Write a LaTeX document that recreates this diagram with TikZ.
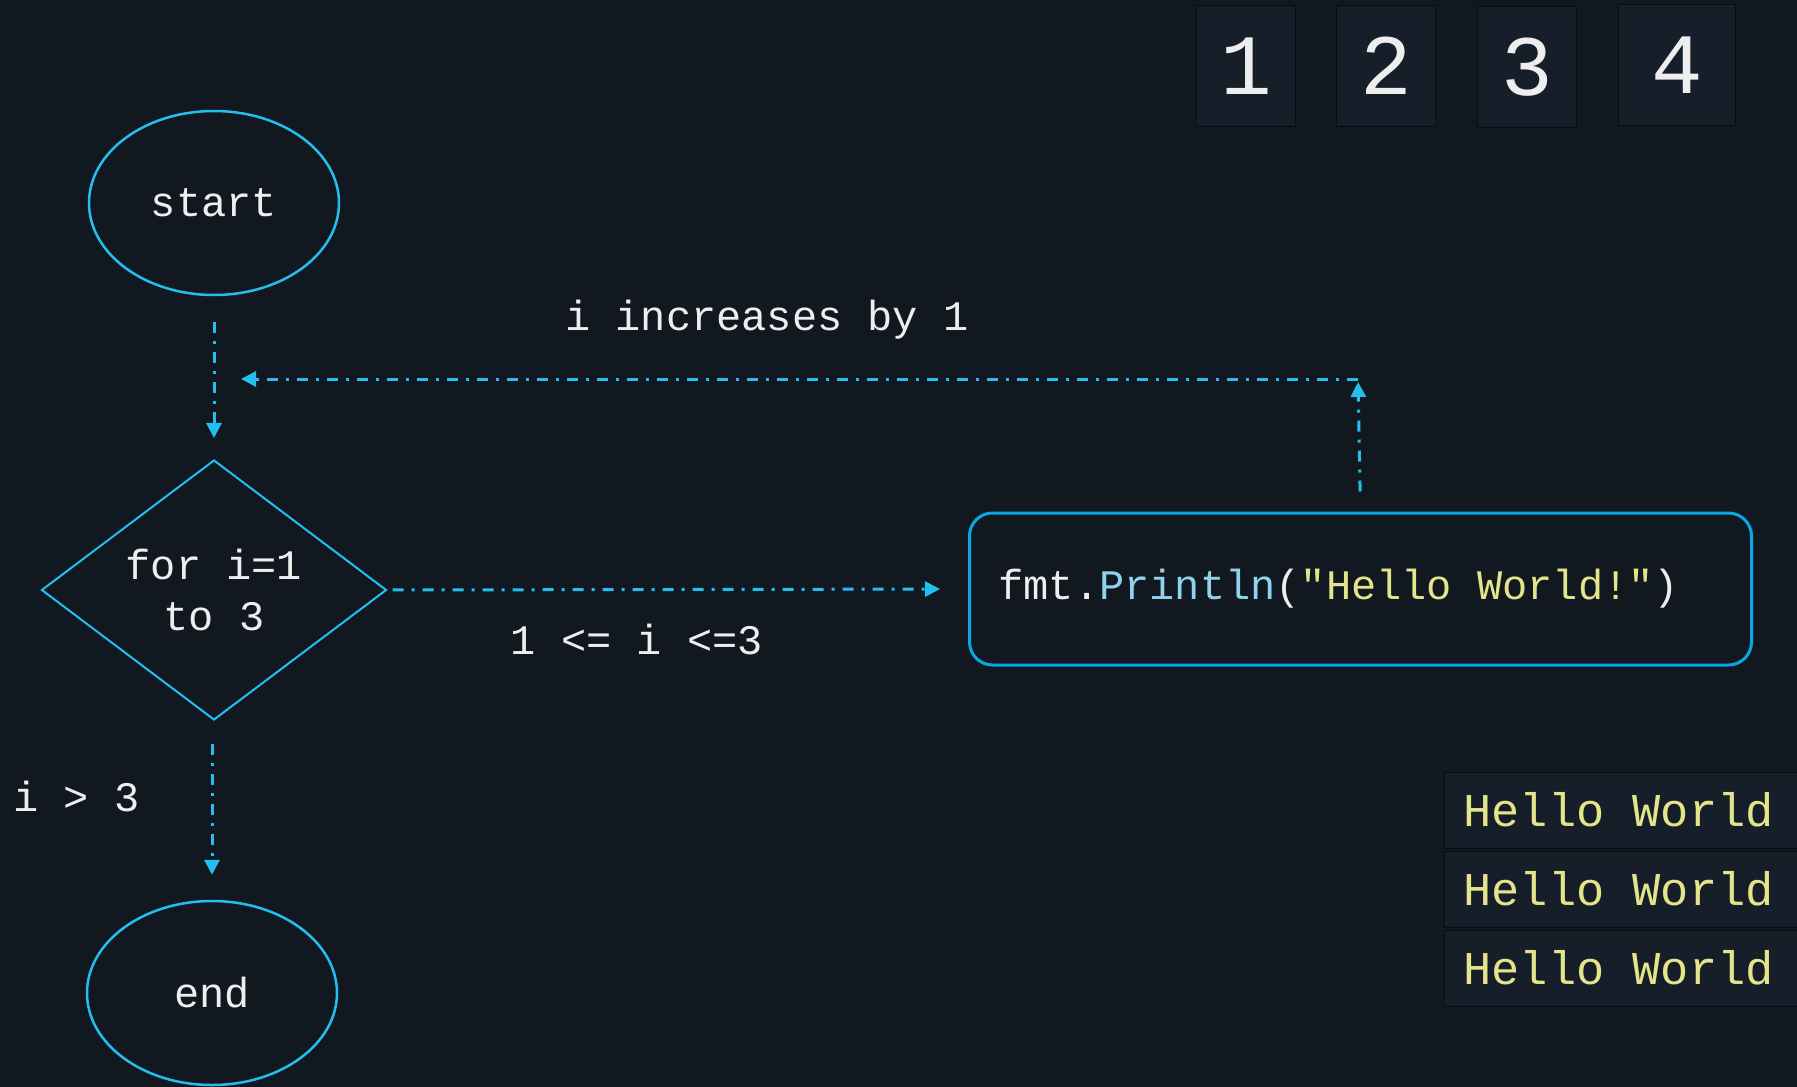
\documentclass[tikz,border=0pt]{standalone}
\usepackage{fontspec}
\setmonofont{Liberation Mono}
\usetikzlibrary{shapes.geometric,arrows.meta}
\definecolor{bg}{HTML}{111820}
\definecolor{flowline}{HTML}{22BFEF}
\definecolor{boxline}{HTML}{0AA8E2}
\definecolor{cell}{HTML}{161E29}
\definecolor{funcblue}{HTML}{8FD4EC}
\definecolor{strgold}{HTML}{E4E48A}
\definecolor{ink}{HTML}{EEEEEE}
\begin{document}
\begin{tikzpicture}[
    x=1pt, y=-1pt,
    every node/.style={text=ink, font=\ttfamily\fontsize{42}{51}\selectfont},
    terminal/.style={ellipse, draw=flowline, line width=2.5pt, minimum width=250pt, minimum height=184pt},
    decision/.style={diamond, draw=flowline, line width=2pt, minimum width=345pt, minimum height=260pt, inner sep=0pt, align=center},
    process/.style={rectangle, rounded corners=23pt, draw=boxline, line width=3pt, minimum height=152pt, text width=724pt, inner xsep=29pt, align=flush left, anchor=west},
    flow/.style={draw=flowline, line width=3pt, dash pattern=on 11pt off 8pt on 3pt off 8pt, -{Triangle[length=15pt,width=15pt]}},
    counter/.style={fill=cell, draw=black!50!bg, line width=1pt, minimum height=121pt, font=\ttfamily\fontsize{86}{90}\selectfont},
    output/.style={fill=cell, draw=black!50!bg, line width=1pt, anchor=west, minimum height=76pt, text width=330pt, inner xsep=19pt, align=flush left, text=strgold, font=\ttfamily\fontsize{47}{50}\selectfont}
  ]
  \useasboundingbox (0,0) rectangle (1797,1087);
  \fill[bg] (0,0) rectangle (1797,1087);

  % flowchart
  \node[terminal] (start) at (214,203) {start};
  \node[decision] (loop) at (214,590) {for i=1\\to 3};
  \node[process] (print) at (968,589) {fmt.\textcolor{funcblue}{Println}(\textcolor{strgold}{"Hello World!"})};
  \node[terminal] (end) at (212,993) {end};

  \coordinate (corner) at (1358,379);
  \coordinate (loopin) at (214,379);

  \draw[flow, shorten <=26pt, shorten >=21pt] (start) -- (loop);
  \draw[flow, shorten <=5pt, shorten >=28pt] (loop.east) -- (print.west);
  \draw[flow, shorten <=20pt, shorten >=3pt] (print.north) -- (corner);
  \draw[flow, shorten >=27pt] (corner) -- (loopin);
  \draw[flow, shorten <=23pt, shorten >=25pt] (loop.south) ++(-2,0) coordinate (exitfrom) -- (exitfrom |- end.north);

  \node (inclabel) at (767,320) {i increases by 1};
  \node (condlabel) at (637,639) {1 <= i <=3};
  \node[anchor=west] (exitlabel) at (10,796) {i > 3};

  % iteration counters
  \node[counter, minimum width=99pt] (c1) at (1246,66) {1};
  \node[counter, minimum width=99pt] (c2) at (1386,66) {2};
  \node[counter, minimum width=99pt] (c3) at (1527,67) {3};
  \node[counter, minimum width=117pt] (c4) at (1677,65) {4};

  % console output
  \node[output] (out1) at (1444,810) {Hello World};
  \node[output] (out2) at (1444,889) {Hello World};
  \node[output] (out3) at (1444,968) {Hello World};
\end{tikzpicture}
\end{document}
